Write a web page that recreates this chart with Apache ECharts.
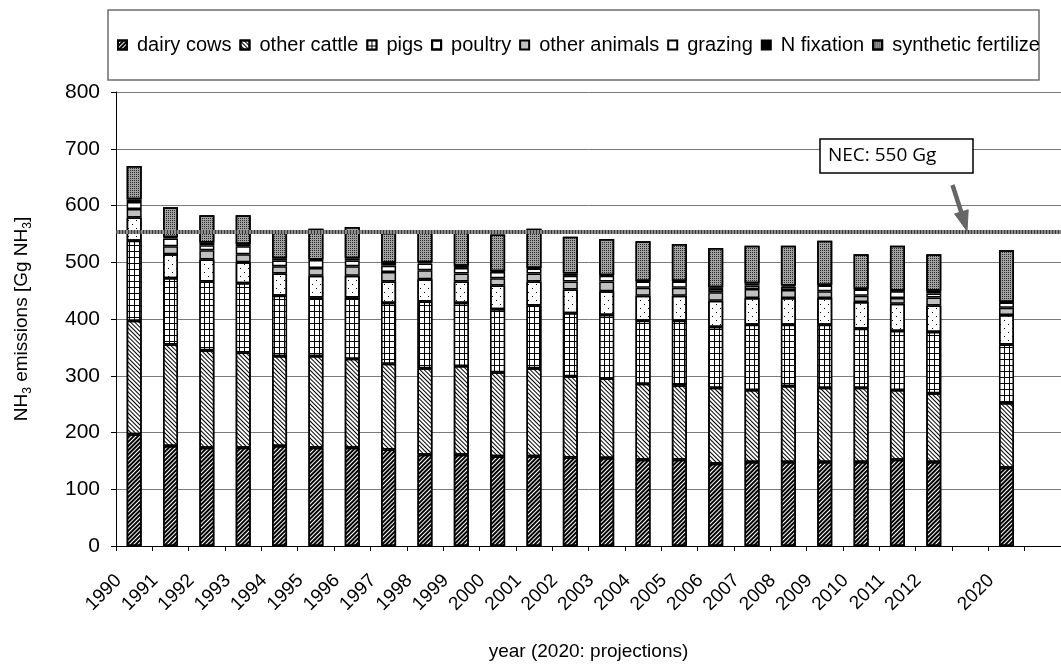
<!DOCTYPE html>
<html>
<head>
<meta charset="utf-8">
<script src="https://cdn.jsdelivr.net/npm/echarts@6/dist/echarts.min.js"></script>
<style>html,body{margin:0;padding:0;background:#fff}#c{width:1061px;height:666px}</style>
</head>
<body>
<div id="c"></div>
<script>
const categories = ['1990','1991','1992','1993','1994','1995','1996','1997','1998','1999','2000','2001','2002','2003','2004','2005','2006','2007','2008','2009','2010','2011','2012','','2020',''];
const dairyCows     = [197,176,173,173,176,173,173,170,161,161,158,158,156,155,152,152,145,148,148,148,148,152,148,null,138,null];
const otherCattle   = [200,179,172,168,159,162,157,151,152,156,148,155,143,140,134,131,134,127,134,131,131,123,121,null,114,null];
const pigs          = [141,117,121,122,106,103,108,107,118,111,111,111,111,112,111,114,107,115,108,111,104,104,108,null,103,null];
const poultry       = [41,42,39,37,39,38,38,38,39,38,42,42,42,42,44,44,46,47,47,47,47,48,47,null,52,null];
const otherAnimals  = [15,14,16,14,13,14,17,17,16,14,13,14,14,17,14,14,15,16,14,12,11,10,14,null,13,null];
const grazing       = [12,14,9,14,10,14,10,11,12,10,11,9,10,10,11,11,6,6,6,10,11,12,7,null,9,null];
const nFixation     = [5,2,5,4,4,1,4,5,2,4,1,1,4,1,1,1,3,4,2,1,1,1,5,null,1,null];
const synthetic     = [58.5,53,48,51,49,54,55,53,55,61,65,69,65,64,70,65,69,66,70,78,61,79,64,null,91,null];
const necLine = 553;
const yTicks = { min: 0, max: 800, interval: 100 };
const legendNames = ['dairy cows','other cattle','pigs','poultry','other animals','grazing','N fixation','synthetic fertilize'];

const FONT = 'Liberation Sans, Arial, sans-serif';
const chart = echarts.init(document.getElementById('c'), null, { renderer: 'canvas' });

function barSeries(name, data, color, decal) {
  const s = {
    name: name, type: 'bar', stack: 'total', data: data, barWidth: 15,
    itemStyle: { color: color, borderColor: '#000', borderWidth: 1.5 },
    emphasis: { disabled: true }
  };
  if (decal) s.itemStyle.decal = decal;
  return s;
}

const series = [
  barSeries(legendNames[0], dairyCows, '#ffffff', { symbol: 'rect', symbolSize: 1, color: '#000', dashArrayX: [1, 0], dashArrayY: [2, 1], rotation: -Math.PI / 4 }),
  barSeries(legendNames[1], otherCattle, '#ffffff', { symbol: 'rect', symbolSize: 1, color: '#000', dashArrayX: [1, 0], dashArrayY: [1, 2], rotation: Math.PI / 4 }),
  barSeries(legendNames[2], pigs, '#000000', { symbol: 'rect', symbolSize: 1, color: '#fff', dashArrayX: [4, 1], dashArrayY: [5, 1], rotation: 0 }),
  barSeries(legendNames[3], poultry, '#ffffff', { symbol: 'rect', symbolSize: 1, color: '#000', dashArrayX: [[1, 7], [0, 4, 1, 3]], dashArrayY: [1, 3], rotation: 0 }),
  barSeries(legendNames[4], otherAnimals, '#c0c0c0', null),
  barSeries(legendNames[5], grazing, '#ffffff', null),
  barSeries(legendNames[6], nFixation, '#000000', null),
  barSeries(legendNames[7], synthetic, '#a2a2a2', { symbol: 'rect', symbolSize: 1, color: '#2a2a2a', dashArrayX: [1, 1], dashArrayY: [1, 1], rotation: 0 })
];
series[7].markLine = {
  silent: true, symbol: 'none', label: { show: false }, animation: false,
  data: [
    { yAxis: necLine, lineStyle: { color: '#8c8c8c', width: 4, type: 'solid' } },
    { yAxis: necLine, lineStyle: { color: '#3a3a3a', width: 4, type: [1, 2] } }
  ]
};

const option = {
  animation: false,
  backgroundColor: '#fff',
  textStyle: { fontFamily: FONT, color: '#000' },
  grid: { left: 116, top: 92, width: 958, bottom: 111, containLabel: false },
  legend: {
    data: legendNames, left: 112, top: 30, icon: 'rect',
    itemWidth: 9, itemHeight: 9, itemGap: 8,
    textStyle: { fontFamily: FONT, fontSize: 20, color: '#000', padding: [0, 0, 0, 5] },
    selectedMode: false
  },
  xAxis: {
    type: 'category', data: categories,
    axisLine: { lineStyle: { color: '#000', width: 1 } },
    axisTick: { show: true, length: 5, lineStyle: { color: '#000' }, interval: 0 },
    axisLabel: { interval: 0, rotate: 45, fontSize: 19, color: '#000', fontFamily: FONT, margin: 16, padding: [0, 22, 0, 0] },
    name: 'year (2020: projections)', nameLocation: 'middle', nameGap: 96,
    nameTextStyle: { fontSize: 19, color: '#000', fontFamily: FONT }
  },
  yAxis: {
    type: 'value', min: yTicks.min, max: yTicks.max, interval: yTicks.interval,
    axisLine: { show: true, lineStyle: { color: '#000', width: 1 } },
    axisTick: { show: true, length: 5, lineStyle: { color: '#000' } },
    axisLabel: { fontSize: 21, color: '#000', fontFamily: FONT, margin: 16 },
    splitLine: { show: true, lineStyle: { color: '#7a7a7a', width: 1 } },
    name: '{n|NH}{s|3}{n| emissions [Gg NH}{s|3}{n|]}',
    nameLocation: 'middle', nameRotate: 90, nameGap: 82,
    nameTextStyle: {
      fontFamily: FONT,
      rich: {
        n: { fontSize: 19, color: '#000', fontFamily: FONT, lineHeight: 24, verticalAlign: 'middle' },
        s: { fontSize: 12, color: '#000', fontFamily: FONT, lineHeight: 24, verticalAlign: 'bottom' }
      }
    }
  },
  graphic: [
    { type: 'rect', z: -1, silent: true, shape: { x: 108, y: 10, width: 931, height: 70 },
      style: { fill: 'none', stroke: '#6e6e6e', lineWidth: 1.5 } },
    { type: 'rect', z: 100, silent: true, shape: { x: 820, y: 139, width: 153, height: 34 },
      style: { fill: '#fff', stroke: '#000', lineWidth: 1.5 } },
    { type: 'text', z: 101, silent: true, x: 828, y: 156,
      style: { text: 'NEC: 550 Gg', fill: '#000', font: '19px "Open Sans", sans-serif', textVerticalAlign: 'middle', verticalAlign: 'middle' } },
    { type: 'line', z: 100, silent: true, shape: { x1: 952.5, y1: 185, x2: 961.5, y2: 213 },
      style: { stroke: '#666', lineWidth: 4.5 } },
    { type: 'polygon', z: 100, silent: true, shape: { points: [[967, 231], [968.2, 209.8], [954.6, 213.9]] },
      style: { fill: '#666', stroke: '#666', lineWidth: 1 } }
  ],
  series: series
};
chart.setOption(option);
</script>
</body>
</html>
